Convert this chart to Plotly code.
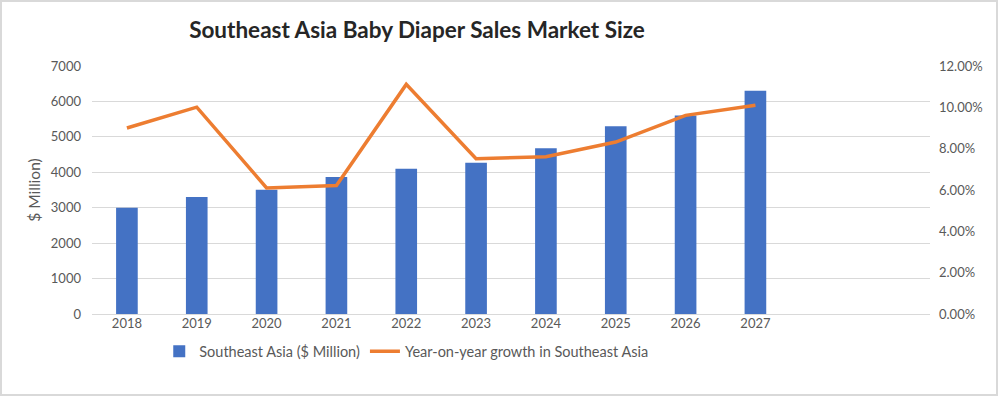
import plotly.graph_objects as go

years = [2018, 2019, 2020, 2021, 2022, 2023, 2024, 2025, 2026, 2027]
sales = [3000, 3300, 3510, 3870, 4100, 4270, 4680, 5300, 5600, 6300]
growth = [0.0900, 0.1001, 0.0610, 0.0622, 0.1111, 0.0751, 0.0761, 0.0832, 0.0961, 0.1010]
y_ticks = [0, 1000, 2000, 3000, 4000, 5000, 6000, 7000]
y2_ticks = [0, 0.02, 0.04, 0.06, 0.08, 0.10, 0.12]

grey = "#595959"
fnt = "Lato, 'Open Sans', sans-serif"

fig = go.Figure()
fig.add_trace(go.Bar(
    x=years, y=sales, name="Southeast Asia ($ Million)",
    marker=dict(color="#4472C4", line=dict(width=0)), width=0.31,
))
fig.add_trace(go.Scatter(
    x=years, y=growth, name="Year-on-year growth in Southeast Asia",
    mode="lines", line=dict(color="#ED7D31", width=3.5), yaxis="y2",
))

fig.update_layout(
    width=1000, height=397,
    margin=dict(l=92, r=70, t=66, b=83),
    paper_bgcolor="white", plot_bgcolor="white",
    font=dict(family=fnt, color=grey, size=13),
    title=dict(text="<b>Southeast Asia Baby Diaper Sales Market Size</b>",
               x=0.417, xanchor="center", y=1 - 30 / 397, yanchor="middle",
               font=dict(size=22.5, color="#262626", family=fnt)),
    xaxis=dict(range=[2017.5, 2029.5], tickvals=years, ticktext=[str(y) for y in years],
               showgrid=False, zeroline=False, showline=False, ticks="",
               tickfont=dict(size=13, color=grey)),
    yaxis=dict(range=[0, 7000], tickvals=y_ticks, showgrid=True, gridcolor="#d9d9d9",
               gridwidth=1, zeroline=True, zerolinecolor="#d9d9d9", zerolinewidth=1,
               ticks="", ticklabelstandoff=10,
               title=dict(text="$ Million)", standoff=6, font=dict(size=15.5, color=grey)),
               tickfont=dict(size=13, color=grey)),
    yaxis2=dict(range=[0, 0.12], tickvals=y2_ticks, tickformat=".2%", overlaying="y",
                side="right", showgrid=False, zeroline=False, ticks="",
                ticklabelstandoff=8, tickfont=dict(size=13, color=grey)),
    legend=dict(orientation="h", x=0.375, xanchor="center", y=-0.15, yanchor="middle",
                font=dict(size=14.5, color=grey), bgcolor="rgba(0,0,0,0)",
                itemwidth=30, tracegroupgap=0),
    bargap=0.69,
    showlegend=True,
    shapes=[dict(type="rect", xref="paper", yref="paper",
                 x0=-91 / 838, x1=(997 - 92) / 838, y0=-(395 - 314) / 248, y1=(314 - 1) / 248,
                 line=dict(color="#d9d9d9", width=2), fillcolor="rgba(0,0,0,0)", layer="below")],
)

fig.write_html("out.html", config={"displayModeBar": False},
               post_script="document.body.style.margin='0';")
